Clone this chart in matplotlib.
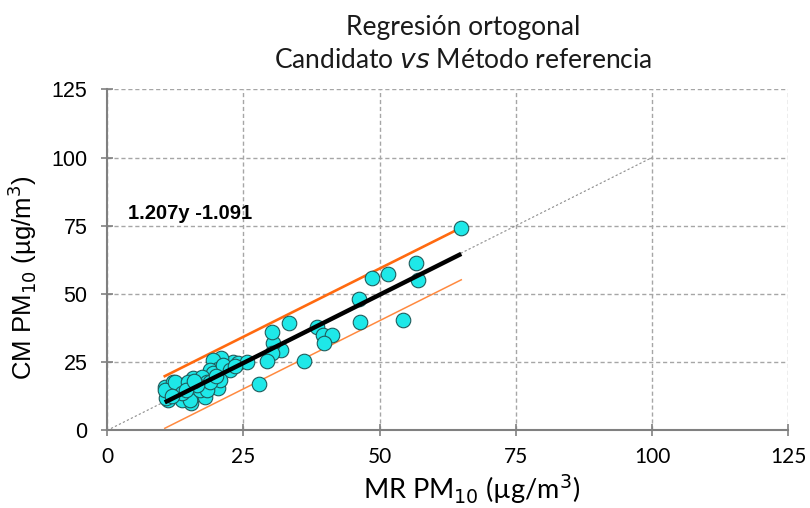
import matplotlib
matplotlib.use("Agg")
import matplotlib.pyplot as plt
import numpy as np

# Data
mr_pm10 = [65.0, 56.7, 57.0, 51.6, 48.7, 46.3, 46.5, 54.3,
           33.4, 38.6, 39.6, 41.3, 39.9, 36.1, 32.0, 30.5, 30.2, 30.2, 29.3, 27.9,
           21.3, 23.2, 24.1, 25.6, 21.0, 19.5, 20.4, 18.9, 19.5, 21.3, 22.5, 23.5,
           10.6, 12.2, 11.2, 11.6, 14.0, 14.3, 15.5, 15.5, 15.8, 17.4, 17.1, 18.3,
           19.5, 18.0, 13.7, 10.9, 10.6, 12.5, 14.9, 15.2, 17.1, 20.4, 20.7, 13.7,
           18.3, 18.9, 16.5, 12.0, 14.5, 16.0, 20.0]
cm_pm10 = [74.1, 61.3, 55.2, 57.2, 56.0, 48.2, 39.8, 40.6,
           39.4, 37.9, 34.9, 34.9, 31.9, 25.5, 29.4, 31.9, 36.1, 28.2, 25.5, 17.2,
           24.8, 25.1, 24.6, 25.1, 26.4, 25.8, 22.7, 22.1, 20.9, 24.0, 22.0, 23.5,
           16.0, 17.9, 11.2, 13.6, 16.7, 13.0, 13.6, 10.0, 19.1, 19.7, 15.5, 17.9,
           17.9, 12.4, 11.2, 11.8, 14.8, 17.8, 17.8, 11.1, 14.8, 15.4, 18.5, 13.6,
           14.8, 17.8, 16.5, 12.5, 15.0, 18.0, 20.0]

fit_slope = 1.0
fit_intercept = -0.3
band_upper = 9.6
band_lower = -9.5
identity_max = 100
ticks = [0, 25, 50, 75, 100, 125]
equation_label = "1.207y -1.091"
eq_pos = (3.85, 79.5)

title_font = "Lato"
arial = "Liberation Sans"

fig = plt.figure(figsize=(8.1, 5.08), dpi=100)
ax = fig.add_axes([0.1321, 0.1526, 0.8411, 0.6717])

ax.set_xlim(0, 125)
ax.set_ylim(0, 125)

# grid
ax.set_xticks(ticks)
ax.set_yticks(ticks)
ax.grid(True, color="#a6a6a6", linestyle=(0, (3, 2)), linewidth=1.0)
ax.set_axisbelow(True)

for s in ["top", "right"]:
    ax.spines[s].set_visible(False)
for s in ["left", "bottom"]:
    ax.spines[s].set_color("#808080")
    ax.spines[s].set_linewidth(1.5)
ax.tick_params(axis="both", direction="inout", length=8, width=1.2, color="#808080")
ax.tick_params(axis="y", pad=10)
ax.tick_params(axis="x", pad=8)

ax.set_yticklabels([str(t) for t in ticks], fontfamily=arial, fontsize=15.5)
ax.set_xticklabels([str(t) for t in ticks], fontfamily=title_font, fontsize=15)

# identity line
ax.plot([0, identity_max], [0, identity_max], color="#8c8c8c", linestyle=(0, (2, 2)),
        linewidth=0.8, zorder=1)

x = np.array(mr_pm10)
y = np.array(cm_pm10)
xr = np.array([x.min(), x.max()])
yfit = fit_intercept + fit_slope * xr

ax.plot(xr, yfit + band_upper, color="#ff6a10", linewidth=1.9, zorder=2)
ax.plot(xr, yfit + band_lower, color="#ff8a40", linewidth=1.1, zorder=2)

ax.scatter(x, y, s=110, facecolor="#1ee8e8", edgecolor="#1f5c5c", linewidth=0.8, zorder=3)

ax.plot(xr, yfit, color="black", linewidth=3.2, zorder=4, solid_capstyle="butt")

ax.text(eq_pos[0], eq_pos[1], equation_label, fontfamily=arial, fontweight="bold",
        fontsize=14.5, ha="left", va="center", zorder=5)

# title
fig.text(463 / 810, 1 - 28 / 508, "Regresión ortogonal", fontfamily=title_font,
         fontsize=19, ha="center", va="center", color="#1a1a1a")
fig.text(463 / 810, 1 - 61 / 508, "Candidato $\\it{vs}$ Método referencia",
         fontfamily=title_font, fontsize=19, ha="center", va="center", color="#1a1a1a")

fig.text(22 / 810, 1 - 278 / 508, "CM PM$_{10}$ (µg/m$^3$)", fontfamily=arial,
         fontsize=18.5, rotation=90, ha="center", va="center")
fig.text(472 / 810, 2 / 508, "MR PM$_{10}$ (µg/m$^3$)", fontfamily=title_font,
         fontsize=19.5, ha="center", va="bottom")

fig.savefig("out.png", dpi=100)
